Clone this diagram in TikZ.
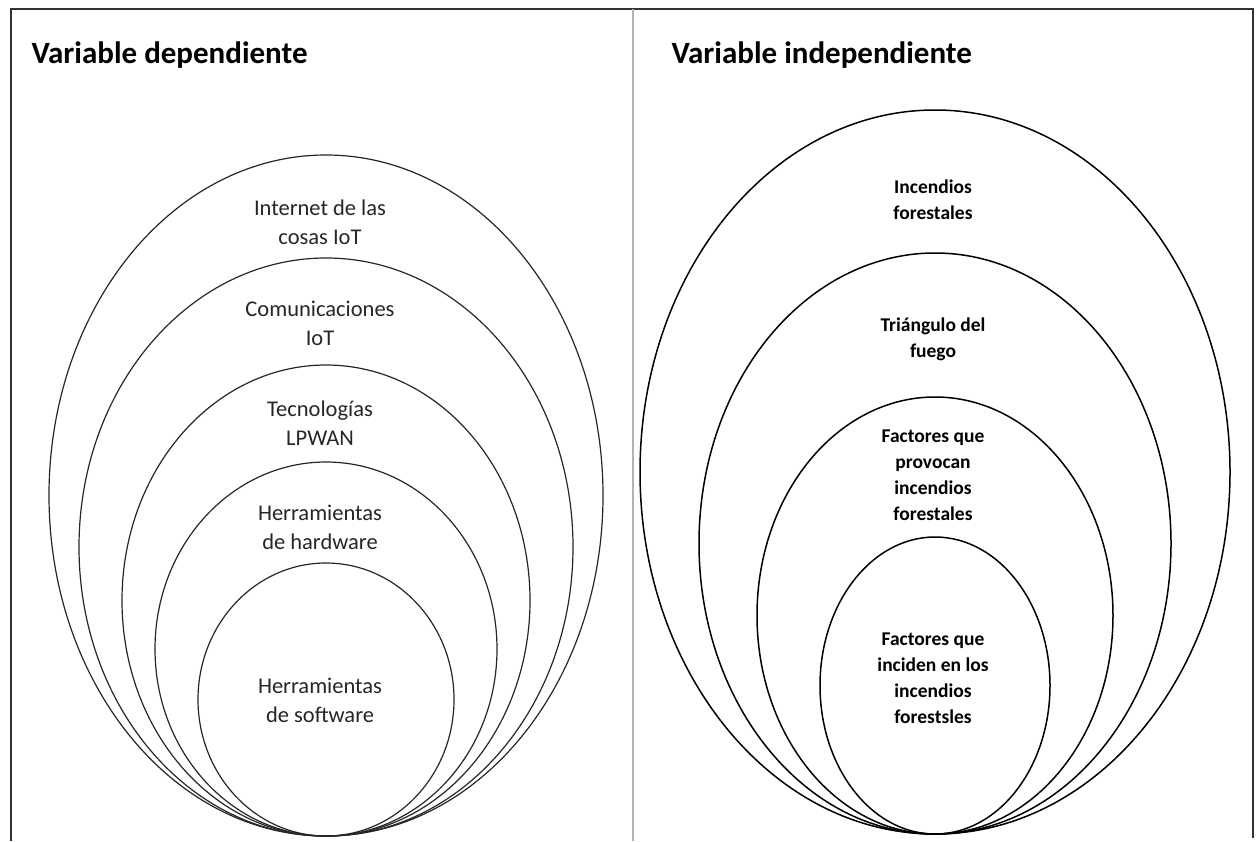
\documentclass[tikz,border=0pt]{standalone}
\usepackage{fontspec}
\setmainfont{Carlito}
\usetikzlibrary{shapes.geometric}
\tikzset{
  ring/.style={draw=black!85,line width=1.2pt,ellipse,inner sep=0pt,outer sep=0pt},
  boldring/.style={ring,draw=black,line width=1.5pt},
  deplabel/.style={align=center,anchor=base,text=black!85,
            font=\fontsize{22.5}{29}\selectfont},
  indlabel/.style={align=center,anchor=base,
            font=\bfseries\fontsize{19.5}{26}\selectfont},
  heading/.style={anchor=base west,font=\bfseries\fontsize{31}{37}\selectfont},
  border/.style={line width=1.2pt,black!80},
  divider/.style={line width=1.5pt,black!30},
}

\begin{document}
\begin{tikzpicture}[x=1pt,y=-1pt]
  \useasboundingbox (0,0) rectangle (1257,841);
  % frame and divider
  \coordinate (bl) at (11,841);
  \coordinate (tl) at (11,9);
  \coordinate (tr) at (1253,9);
  \coordinate (br) at (1253,838);
  \coordinate (mt) at (633,9);
  \coordinate (mb) at (633,841);
  \draw[border] (bl) -- (tl) -- (tr) -- (br);
  \draw[divider] (mt) -- (mb);
  \node[heading] (hdep) at (28,63) {Variable dependiente};
  \node[heading] (hind) at (668,63) {Variable independiente};
  % dependent variable rings, all touching the bottom
  \foreach \n/\rx/\ry in {1/277/340.5,2/247/289,3/204/235.5,4/171/187,5/128/136.5}
    \node[ring,minimum width=2*\rx pt,minimum height=2*\ry pt] (d\n) at (326,{836-\ry}) {};
  % labels sit on the baseline of their last line
  \node[deplabel] (td1) at (320,244) {Internet de las\\cosas IoT};
  \node[deplabel] (td2) at (320,345) {Comunicaciones\\IoT};
  \node[deplabel] (td3) at (320,445) {Tecnologías\\LPWAN};
  \node[deplabel] (td4) at (320,549) {Herramientas\\de hardware};
  \node[deplabel] (td5) at (320,722) {Herramientas\\de software};
  % independent variable rings
  \foreach \n/\rx/\ry in {1/295/362,2/236/290.5,3/178/218.5,4/115/148.5}
    \node[boldring,minimum width=2*\rx pt,minimum height=2*\ry pt] (i\n) at (935,{834-\ry}) {};
  \node[indlabel] (ti1) at (933,219) {Incendios\\forestales};
  \node[indlabel] (ti2) at (933,357) {Triángulo del\\fuego};
  \node[indlabel] (ti3) at (933,520) {Factores que\\provocan\\incendios\\forestales};
  \node[indlabel] (ti4) at (933,723) {Factores que\\inciden en los\\incendios\\forestsles};
\end{tikzpicture}
\end{document}
